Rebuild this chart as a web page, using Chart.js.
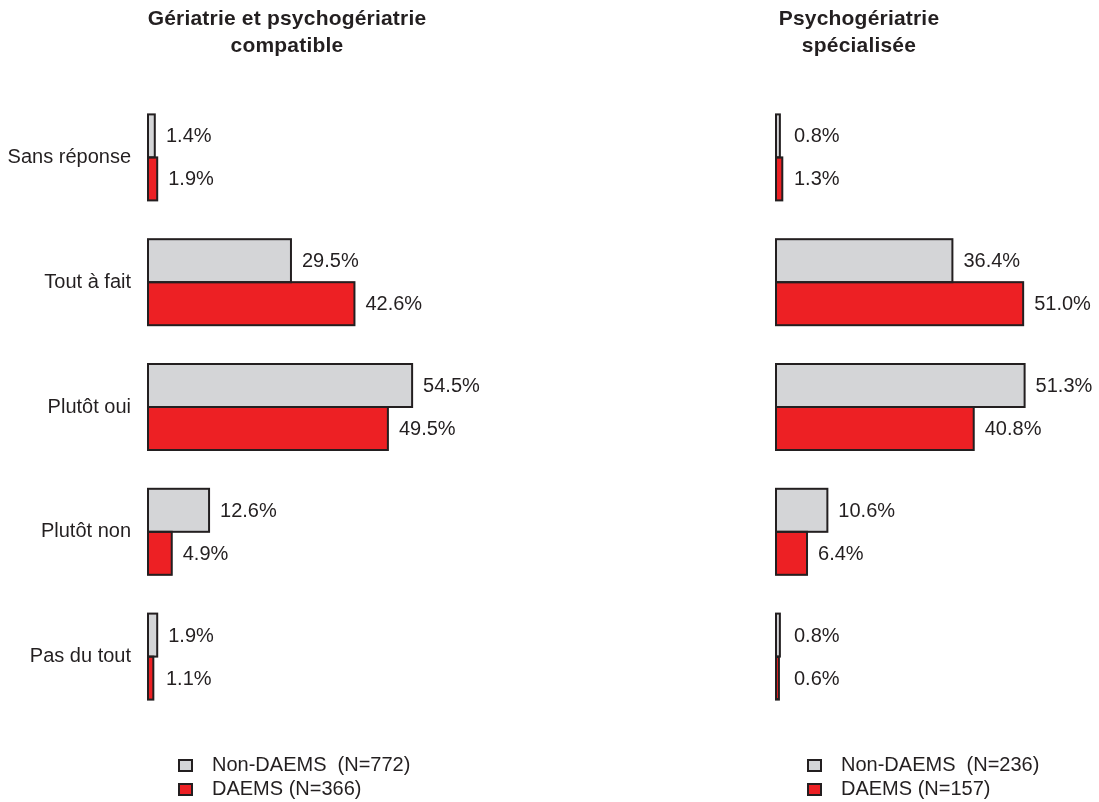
<!DOCTYPE html>
<html>
<head>
<meta charset="utf-8">
<script src="https://cdn.jsdelivr.net/npm/chart.js@4/dist/chart.umd.min.js"></script>
<style>
  body { margin: 0; background: #fff; font-family: "Liberation Sans", Arial, sans-serif; color: #231f20; }
  #page { position: relative; width: 1099px; height: 802px; overflow: hidden; }
  .box { position: absolute; top: 0; height: 802px; }
  .title { position: absolute; font-weight: bold; font-size: 21px; letter-spacing: 0.2px; line-height: 27px; text-align: center; width: 400px; top: 4px; }
  .legend { position: absolute; font-size: 20px; line-height: 24px; white-space: pre; }
  .legend span.sw { display: inline-block; width: 11px; height: 9px; border: 2px solid #231f20; margin-right: 19px; vertical-align: -1px; }
</style>
</head>
<body>
<div id="page">
  <div class="box" style="left:0;width:560px"><canvas id="leftChart"></canvas></div>
  <div class="box" style="left:628px;width:471px"><canvas id="rightChart"></canvas></div>

  <div class="title" style="left:87px">Gériatrie et psychogériatrie<br>compatible</div>
  <div class="title" style="left:659px">Psychogériatrie<br>spécialisée</div>

  <div class="legend" style="left:178px;top:752px"><span class="sw" style="background:#d4d5d7"></span>Non-DAEMS  (N=772)<br><span class="sw" style="background:#ed2024"></span>DAEMS (N=366)</div>
  <div class="legend" style="left:807px;top:752px"><span class="sw" style="background:#d4d5d7"></span>Non-DAEMS  (N=236)<br><span class="sw" style="background:#ed2024"></span>DAEMS (N=157)</div>
</div>

<script>
const categories = ['Sans réponse', 'Tout à fait', 'Plutôt oui', 'Plutôt non', 'Pas du tout'];

// Gériatrie et psychogériatrie compatible
const leftNonDaems = [1.4, 29.5, 54.5, 12.6, 1.9];
const leftDaems = [1.9, 42.6, 49.5, 4.9, 1.1];

// Psychogériatrie spécialisée
const rightNonDaems = [0.8, 36.4, 51.3, 10.6, 0.8];
const rightDaems = [1.3, 51.0, 40.8, 6.4, 0.6];

const GREY = '#d4d5d7';
const RED = '#ed2024';
const INK = '#231f20';

// outline each bar with a centred stroke (Chart.js shrinks borders on thin bars),
// then write the % next to its end
const outlineAndLabels = {
  id: 'outlineAndLabels',
  afterDatasetsDraw(chart) {
    const ctx = chart.ctx;
    const left = chart.chartArea.left;
    ctx.save();
    ctx.strokeStyle = INK;
    ctx.lineWidth = 2;
    chart.data.datasets.forEach((ds, i) => {
      chart.getDatasetMeta(i).data.forEach(bar => {
        const { x, y, base, height } = bar.getProps(['x', 'y', 'base', 'height'], true);
        ctx.strokeRect(base, y - height / 2, x - base, height);
      });
    });
    ctx.font = '20px "Liberation Sans", Arial, sans-serif';
    ctx.fillStyle = INK;
    ctx.textBaseline = 'middle';
    ctx.textAlign = 'left';
    chart.data.datasets.forEach((ds, i) => {
      chart.getDatasetMeta(i).data.forEach((bar, j) => {
        const x = Math.max(bar.x, left + 7) + 11;
        ctx.fillText(ds.data[j].toFixed(1) + '%', x, bar.y + 1);
      });
    });
    ctx.restore();
  }
};

const makeChart = function (id, nonDaems, daems, showLabels, padRight) {
  return new Chart(document.getElementById(id), {
    type: 'bar',
    data: {
      labels: categories,
      datasets: [
        { label: 'Non-DAEMS', data: nonDaems, backgroundColor: GREY, borderWidth: 0, barThickness: 43 },
        { label: 'DAEMS', data: daems, backgroundColor: RED, borderWidth: 0, barThickness: 43 },
      ],
    },
    options: {
      indexAxis: 'y',
      responsive: true,
      maintainAspectRatio: false,
      animation: false,
      layout: { padding: { top: 95, bottom: 83, left: 0, right: padRight } },
      plugins: { legend: { display: false }, tooltip: { enabled: false }, title: { display: false } },
      scales: {
        x: { min: 0, max: 65, display: false },
        y: {
          grid: { display: false, drawTicks: false },
          border: { display: false },
          ticks: {
            display: showLabels,
            padding: 17,
            color: INK,
            font: { family: '"Liberation Sans", Arial, sans-serif', size: 20 },
          },
          afterFit: scale => { scale.width = 148; },
        },
      },
    },
    plugins: [outlineAndLabels],
  });
};

makeChart('leftChart', leftNonDaems, leftDaems, true, 97);
makeChart('rightChart', rightNonDaems, rightDaems, false, 8);
</script>
</body>
</html>
